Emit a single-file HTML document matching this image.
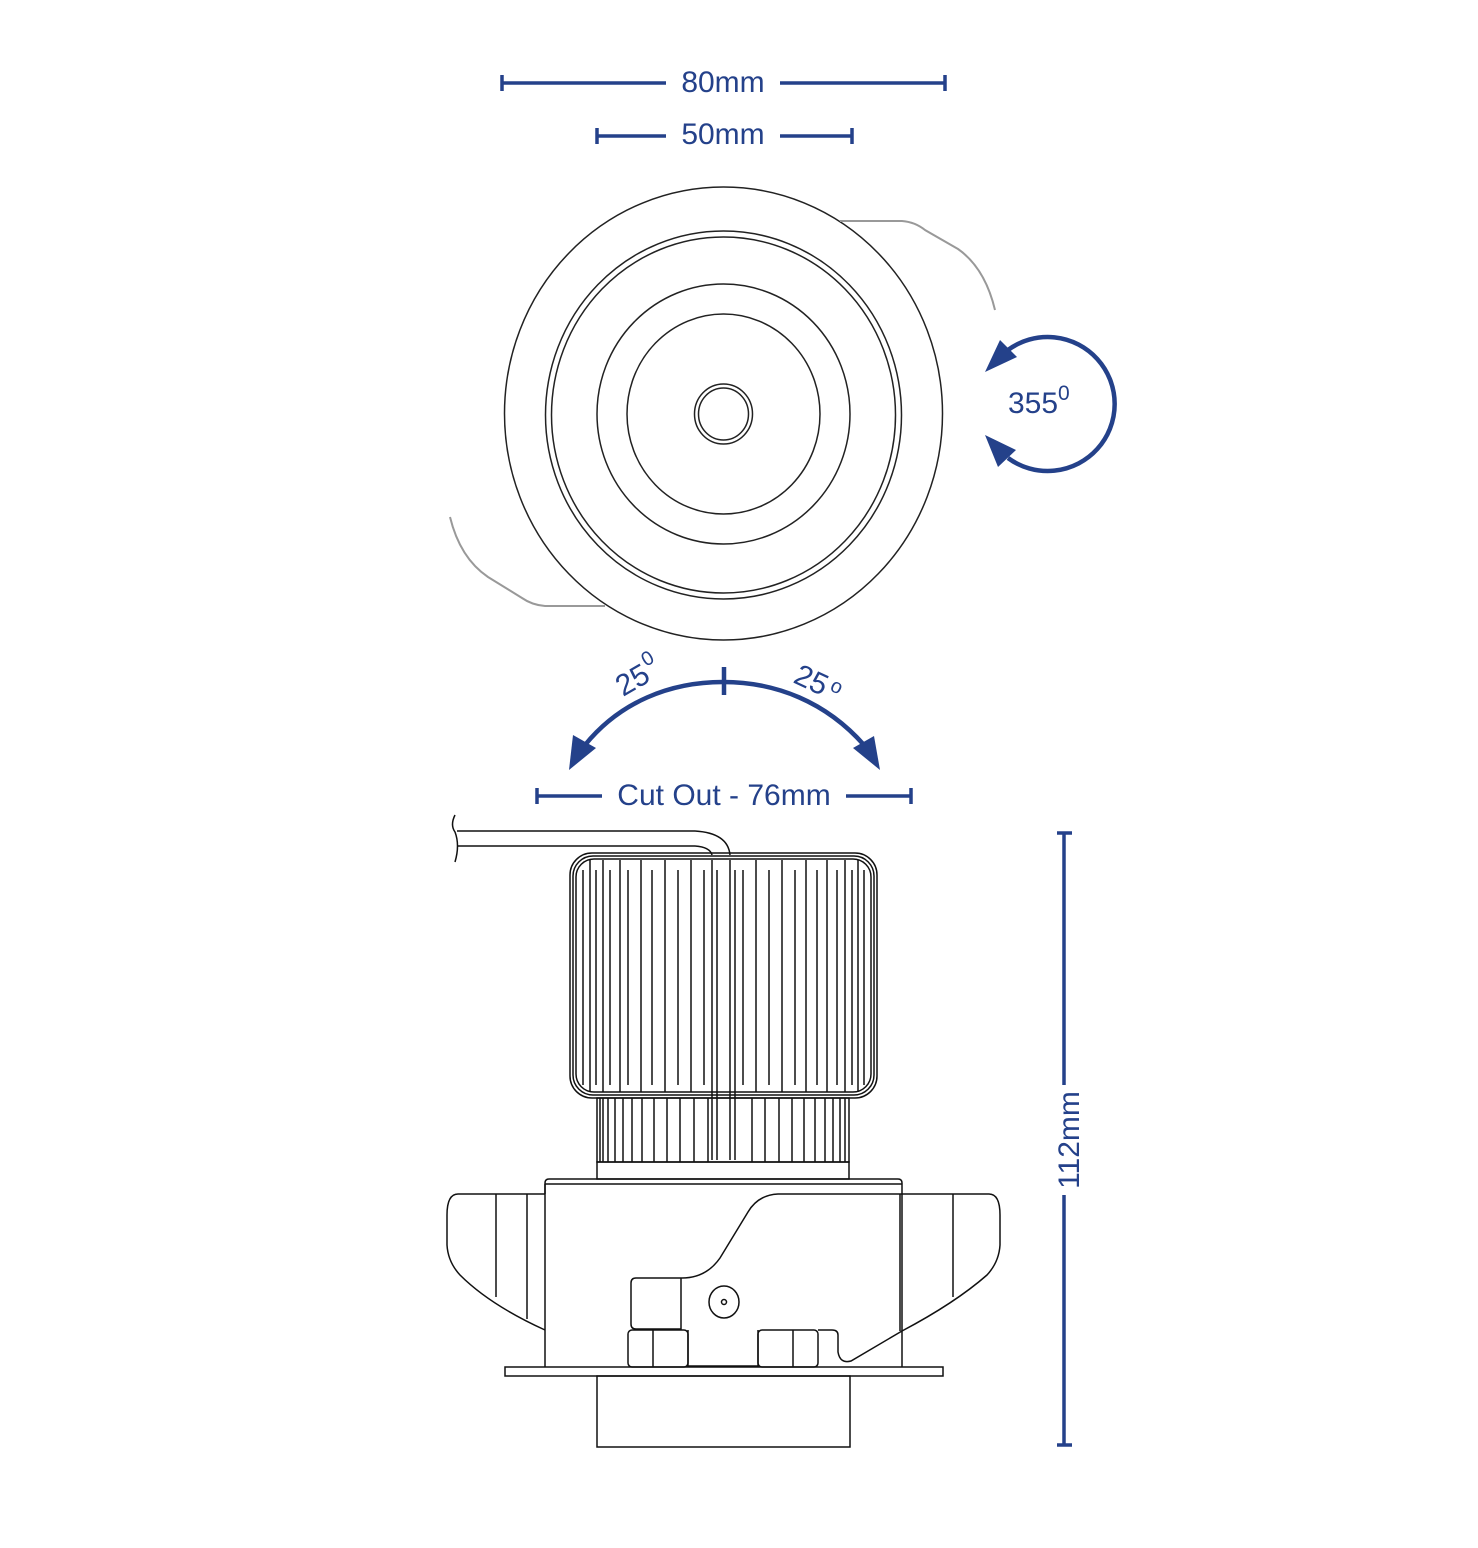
<!DOCTYPE html>
<html><head><meta charset="utf-8"><style>
html,body{margin:0;padding:0;background:#fff}
svg{display:block}
text{font-family:"Liberation Sans",sans-serif;fill:#24418a}
</style></head><body>
<svg width="1478" height="1548" viewBox="0 0 1478 1548" xmlns="http://www.w3.org/2000/svg">
<g stroke="#24418a" stroke-width="3.5" fill="none">
<line x1="502" y1="83" x2="666" y2="83"/><line x1="780" y1="83" x2="945" y2="83"/>
<line x1="502" y1="75" x2="502" y2="91"/><line x1="945" y1="75" x2="945" y2="91"/>
<line x1="597" y1="136" x2="666" y2="136"/><line x1="780" y1="136" x2="852" y2="136"/>
<line x1="597" y1="128" x2="597" y2="144"/><line x1="852" y1="128" x2="852" y2="144"/>
<line x1="537" y1="796" x2="602" y2="796"/><line x1="846" y1="796" x2="911" y2="796"/>
<line x1="537" y1="788" x2="537" y2="804"/><line x1="911" y1="788" x2="911" y2="804"/>
<line x1="1064" y1="833" x2="1064" y2="1085"/><line x1="1064" y1="1195" x2="1064" y2="1445"/>
<line x1="1057" y1="833" x2="1072" y2="833"/><line x1="1057" y1="1445" x2="1072" y2="1445"/>
<path d="M1008,350 A67,67 0 1 1 1008,458" stroke-width="4.5"/>
<path d="M585,745 C620,702 670,682 723,682 C776,682 826,702 864,745" stroke-width="4.5"/>
<line x1="724" y1="667" x2="724" y2="695" stroke-width="4.5"/>
</g>
<g fill="#24418a">
<polygon points="985,372 1000,340 1017,357"/>
<polygon points="985,435 998,467 1016,450"/>
<polygon points="569,770 573,735 596,748"/>
<polygon points="880,770 874,736 853,748"/>
</g>
<text x="723" y="92" font-size="30" text-anchor="middle">80mm</text>
<text x="723" y="144" font-size="30" text-anchor="middle">50mm</text>
<text x="724" y="805" font-size="30" text-anchor="middle">Cut Out - 76mm</text>
<text x="1008" y="413" font-size="30">355</text><text x="1058" y="400" font-size="21">0</text>
<text transform="translate(1079,1140) rotate(-90)" font-size="30" text-anchor="middle">112mm</text>
<text transform="translate(623,697) rotate(-30)" font-size="30">25</text>
<text transform="translate(646,667) rotate(-30)" font-size="20">0</text>
<text transform="translate(792,682) rotate(25)" font-size="30">25</text>
<text transform="translate(829,690) rotate(25)" font-size="20">o</text>

<g fill="none" stroke="#222" stroke-width="1.5">
<ellipse cx="723.5" cy="413.5" rx="219" ry="226.5"/>
<ellipse cx="723.5" cy="415" rx="178" ry="184"/>
<ellipse cx="723.5" cy="415" rx="172" ry="178"/>
<ellipse cx="723.5" cy="414" rx="126.5" ry="130"/>
<ellipse cx="723.5" cy="414" rx="96.5" ry="100"/>
<ellipse cx="723.5" cy="414" rx="29" ry="30"/>
<ellipse cx="723.5" cy="414" rx="25" ry="26"/>
</g>
<g fill="none" stroke="#999" stroke-width="2">
<path d="M840,221 L902,221 Q915,222 925,230 L958,249 Q985,268 995,310"/>
<path d="M605,606 L545,606 Q532,605 522,598 L488,577 Q460,558 450,517"/>
</g>

<g fill="none" stroke="#111" stroke-width="1.5">
<path d="M455,815 Q450,825 455,832 Q460,845 455,862"/>
<line x1="457" y1="831" x2="695" y2="831"/><line x1="458" y1="846" x2="695" y2="846"/>
<path d="M695,831 Q728,833 730,855"/><path d="M695,846 Q710,847 712,855"/>
<rect x="570" y="853" width="307" height="245" rx="22"/>
<rect x="573" y="856" width="301" height="239" rx="20"/>
<rect x="576" y="859" width="295" height="233" rx="18"/>
<g>
<line x1="583" y1="870" x2="583" y2="1085"/><line x1="590" y1="860" x2="590" y2="1092"/>
<line x1="596" y1="870" x2="596" y2="1085"/><line x1="603" y1="860" x2="603" y2="1092"/>
<line x1="610" y1="870" x2="610" y2="1085"/><line x1="620" y1="860" x2="620" y2="1092"/>
<line x1="628" y1="870" x2="628" y2="1085"/><line x1="641" y1="860" x2="641" y2="1092"/>
<line x1="652" y1="870" x2="652" y2="1085"/><line x1="665" y1="860" x2="665" y2="1092"/>
<line x1="678" y1="870" x2="678" y2="1085"/><line x1="691" y1="860" x2="691" y2="1092"/>
<line x1="704" y1="870" x2="704" y2="1085"/><line x1="712" y1="860" x2="712" y2="1160"/>
<line x1="717" y1="870" x2="717" y2="1160"/>
<line x1="730" y1="860" x2="730" y2="1160"/><line x1="735" y1="870" x2="735" y2="1160"/>
<line x1="743" y1="870" x2="743" y2="1085"/><line x1="756" y1="860" x2="756" y2="1092"/>
<line x1="769" y1="870" x2="769" y2="1085"/><line x1="782" y1="860" x2="782" y2="1092"/>
<line x1="795" y1="870" x2="795" y2="1085"/><line x1="806" y1="860" x2="806" y2="1092"/>
<line x1="817" y1="870" x2="817" y2="1085"/><line x1="827" y1="860" x2="827" y2="1092"/>
<line x1="837" y1="870" x2="837" y2="1085"/><line x1="845" y1="860" x2="845" y2="1092"/>
<line x1="852" y1="870" x2="852" y2="1085"/><line x1="858" y1="860" x2="858" y2="1092"/>
<line x1="864" y1="870" x2="864" y2="1085"/>
</g>
<rect x="597" y="1098" width="252" height="64"/>
<g>
<line x1="600" y1="1098" x2="600" y2="1162"/><line x1="603" y1="1098" x2="603" y2="1162"/>
<line x1="608" y1="1098" x2="608" y2="1162"/><line x1="615" y1="1098" x2="615" y2="1162"/>
<line x1="623" y1="1098" x2="623" y2="1162"/><line x1="632" y1="1098" x2="632" y2="1162"/>
<line x1="642" y1="1098" x2="642" y2="1162"/><line x1="654" y1="1098" x2="654" y2="1162"/>
<line x1="667" y1="1098" x2="667" y2="1162"/><line x1="680" y1="1098" x2="680" y2="1162"/>
<line x1="694" y1="1098" x2="694" y2="1162"/><line x1="708" y1="1098" x2="708" y2="1162"/>
<line x1="752" y1="1098" x2="752" y2="1162"/><line x1="765" y1="1098" x2="765" y2="1162"/>
<line x1="779" y1="1098" x2="779" y2="1162"/><line x1="792" y1="1098" x2="792" y2="1162"/>
<line x1="804" y1="1098" x2="804" y2="1162"/><line x1="815" y1="1098" x2="815" y2="1162"/>
<line x1="825" y1="1098" x2="825" y2="1162"/><line x1="833" y1="1098" x2="833" y2="1162"/>
<line x1="840" y1="1098" x2="840" y2="1162"/><line x1="845" y1="1098" x2="845" y2="1162"/>
</g>
<rect x="597" y="1162" width="252" height="17"/>
<path d="M545,1194 L545,1183 Q545,1179 549,1179 L898,1179 Q902,1179 902,1183 L902,1194"/>
<line x1="545" y1="1184" x2="902" y2="1184"/>
<line x1="545" y1="1184" x2="545" y2="1367"/>
<line x1="902" y1="1194" x2="902" y2="1367"/>
<line x1="900" y1="1194" x2="900" y2="1331"/>
<path d="M545,1194 L458,1194 Q447,1194 447,1215 L447,1245 Q448,1262 460,1275 Q490,1305 545,1330"/>
<line x1="496" y1="1194" x2="496" y2="1297"/><line x1="527" y1="1194" x2="527" y2="1319"/>
<path d="M902,1194 L989,1194 Q1000,1194 1000,1215 L1000,1245 Q999,1262 987,1275 Q955,1303 902,1331 L851,1361 Q840,1364 838,1352 L838,1335 Q838,1330 832,1330 L818,1330"/>
<line x1="953" y1="1194" x2="953" y2="1297"/>
<path d="M902,1194 L778,1194 Q758,1195 748,1212 L720,1258 Q706,1278 682,1278 L636,1278 Q631,1278 631,1283 L631,1324 Q631,1329 636,1329 L681,1329 L681,1278"/>
<ellipse cx="724" cy="1302" rx="15" ry="16"/>
<circle cx="724" cy="1302" r="2.5"/>
<rect x="628" y="1330" width="60" height="37" rx="4"/>
<line x1="653" y1="1330" x2="653" y2="1367"/><line x1="688" y1="1330" x2="688" y2="1367"/>
<rect x="758" y="1330" width="60" height="37" rx="4"/>
<line x1="793" y1="1330" x2="793" y2="1367"/><line x1="758" y1="1330" x2="758" y2="1367"/>
<line x1="688" y1="1366" x2="758" y2="1366"/>
<rect x="505" y="1367" width="438" height="9"/>
<rect x="597" y="1376" width="253" height="71"/>
</g>
</svg>
</body></html>
